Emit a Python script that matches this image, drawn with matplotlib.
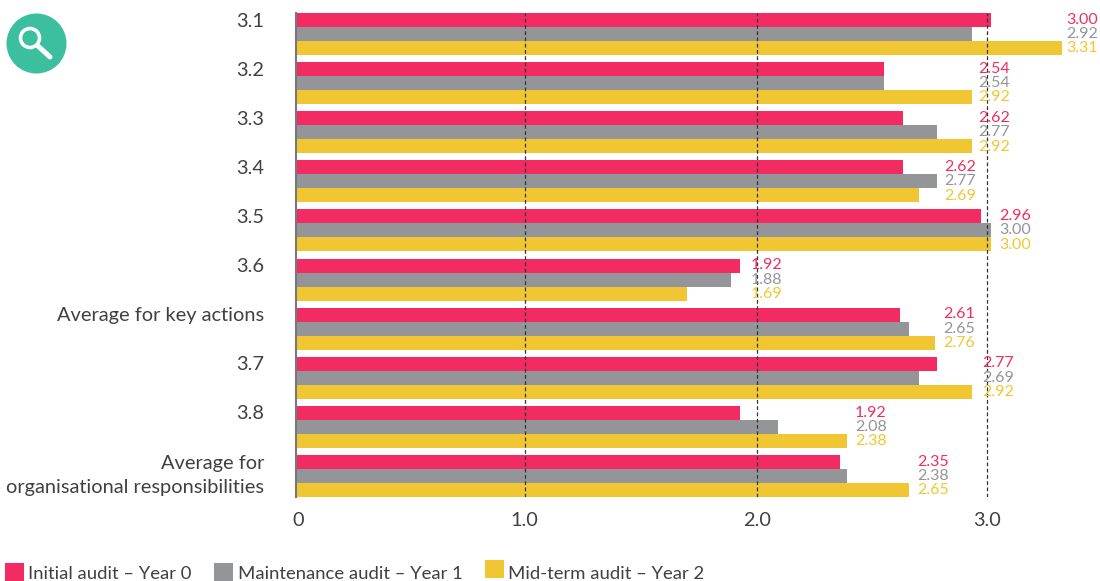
import matplotlib
matplotlib.use("Agg")
import matplotlib.pyplot as plt
from matplotlib.patches import Circle, Rectangle

plt.rcParams['font.family'] = ['Lato', 'DejaVu Sans']

categories = ["3.1", "3.2", "3.3", "3.4", "3.5", "3.6", "Average for key actions",
              "3.7", "3.8", "Average for\norganisational responsibilities"]
initial = [3.00, 2.54, 2.62, 2.62, 2.96, 1.92, 2.61, 2.77, 1.92, 2.35]
maintenance = [2.92, 2.54, 2.77, 2.77, 3.00, 1.88, 2.65, 2.69, 2.08, 2.38]
midterm = [3.31, 2.92, 2.92, 2.69, 3.00, 1.69, 2.76, 2.92, 2.38, 2.65]
series_names = ["Initial audit – Year 0", "Maintenance audit – Year 1", "Mid-term audit – Year 2"]
grid_ticks = [0.988, 1.99, 2.985]
grid_labels = ["1.0", "2.0", "3.0"]

RED = "#f22c62"
GREY = "#939598"
YELLOW = "#f0c633"
colors = [RED, GREY, YELLOW]
W, H = 1100, 581

fig = plt.figure(figsize=(W / 100, H / 100), dpi=100)
# axes box in pixels: x 296..1100, y 13..497
ax = fig.add_axes([296 / W, 1 - 497 / H, (W - 296) / W, 484 / H])
scale = 231.5
ax.set_xlim(0, (W - 296) / scale)
pitch = 49.1
ax.set_ylim(9 + 42 / pitch / 2, -42 / pitch / 2)
bh = 14 / pitch

for i, (vals, c) in enumerate(zip([initial, maintenance, midterm], colors)):
    ax.barh([k + (i - 1) * bh for k in range(len(categories))], vals, height=bh,
            color=c, linewidth=0, zorder=2)

for t in grid_ticks:
    ax.axvline(t, color="#333333", lw=0.9, ls=(0, (3, 2)), zorder=3)

# value labels sit right of the longest bar in each row
label_gap = [4, 6, 6, 7, 9, 10, 8, 10, 8, 8]
for k in range(len(categories)):
    right = max(initial[k], maintenance[k], midterm[k])
    for i, (vals, c) in enumerate(zip([initial, maintenance, midterm], colors)):
        ax.text(right + label_gap[k] / scale, k + (i - 1) * 14.3 / pitch, "%.2f" % vals[k], color=c,
                fontsize=11.5, va="center", ha="left", zorder=4)

for s in ["top", "right", "bottom"]:
    ax.spines[s].set_visible(False)
ax.spines["left"].set_color("#77787b")
ax.spines["left"].set_linewidth(1.5)

# category labels sit level with the top bar, the two-line one is centred
label_pos = [k - 14.5 / pitch for k in range(len(categories) - 1)] + [9 - 5 / pitch]
ax.set_yticks(label_pos)
ax.set_yticklabels(categories, fontsize=14.4, color="#404040", linespacing=1.5)
ax.set_xticks([0.01] + grid_ticks)
ax.set_xticklabels(["0"] + grid_labels, fontsize=14.3, color="#404040")
ax.tick_params(length=0, pad=23, axis="y")
ax.tick_params(length=0, pad=11, axis="x")
ax.patch.set_alpha(0)

# overlay in pixel coordinates for icon and legend
ov = fig.add_axes([0, 0, 1, 1], zorder=-1)
ov.set_xlim(0, W)
ov.set_ylim(H, 0)
ov.axis("off")
ov.set_aspect("equal")

ov.add_patch(Circle((36.5, 43.5), 30, color="#3bbf9e", lw=0))
ov.add_patch(Circle((30, 38), 9.5, fill=False, edgecolor="white", lw=2.6))
ov.plot([38, 50], [46, 57], color="white", lw=3.6, solid_capstyle="round")

legend_x = [5, 214, 485]
legend_y = [563, 563, 560]
for name, c, x0, y0 in zip(series_names, colors, legend_x, legend_y):
    ov.add_patch(Rectangle((x0, y0), 19, 18, color=c, lw=0))
    ov.text(x0 + 23.5, 574, name, fontsize=13.3, color="#404040", va="center", ha="left")

fig.savefig("out.png", dpi=100)
